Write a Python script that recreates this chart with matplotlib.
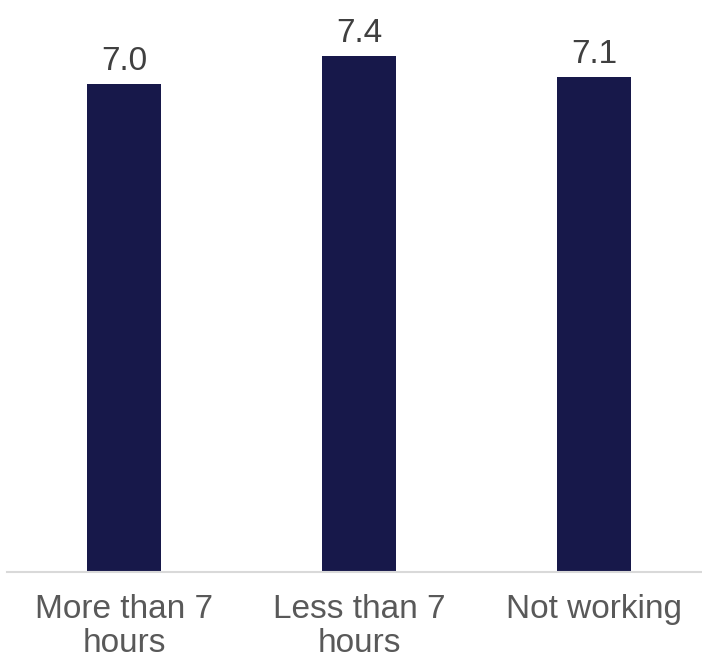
import matplotlib.pyplot as plt
from matplotlib import rcParams

rcParams.update({
    "font.family": ["Liberation Sans", "DejaVu Sans"],
})

categories = ["More than 7\nhours", "Less than 7\nhours", "Not working"]
values = [7.0, 7.4, 7.1]

bar_color = "#17184a"
text_gray = "#595959"
axis_gray = "#d9d9d9"

fig = plt.figure(figsize=(7.02, 6.6), dpi=100, facecolor="white")
ax = fig.add_axes([7 / 702, 88 / 660, 695 / 702, 572 / 660])

x = list(range(len(categories)))
bars = ax.bar(x, values, width=0.315, color=bar_color)

ax.bar_label(bars, labels=[f"{v:.1f}" for v in values], padding=5,
             fontsize=24, color="#404040")

ax.set_xlim(-0.498, 2.46)
ax.set_ylim(0, 8.2)
ax.set_xticks(x)
ax.set_xticklabels(categories, fontsize=24, color=text_gray, linespacing=1.12)
ax.tick_params(axis="x", length=0, pad=16)
ax.set_yticks([])

for side in ["top", "right", "left"]:
    ax.spines[side].set_visible(False)
ax.spines["bottom"].set_color(axis_gray)
ax.spines["bottom"].set_linewidth(1.5)

fig.savefig("out.png", dpi=100)
